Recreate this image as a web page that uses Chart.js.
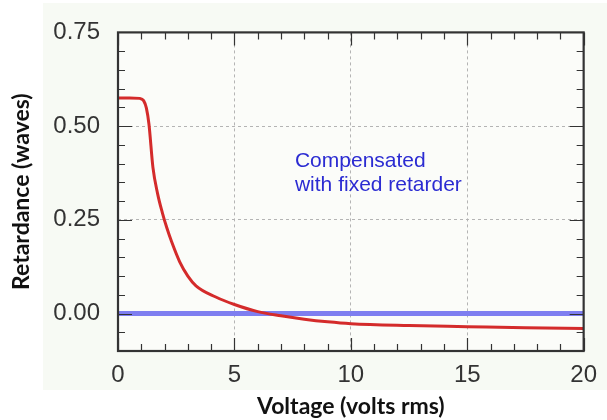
<!DOCTYPE html>
<html>
<head>
<meta charset="utf-8">
<script src="https://cdn.jsdelivr.net/npm/chart.js@4.4.1/dist/chart.umd.min.js"></script>
<style>
  html, body { margin: 0; padding: 0; background: #fff; }
  #wrap { width: 607px; height: 420px; position: relative; }
</style>
</head>
<body>
<div id="wrap"><canvas id="ret-chart"></canvas></div>
<script>
// Retardance vs. voltage
const voltage    = [0, 0.5, 0.93, 1.1, 1.22, 1.33, 1.5, 1.7, 1.9, 2.1, 2.3, 2.65, 3.0, 3.35, 4.2, 5.0, 6.0, 7.0, 8.0, 9.0, 10, 12.5, 15, 17.5, 20];
const retardance = [0.575, 0.575, 0.574, 0.568, 0.548, 0.505, 0.39, 0.32, 0.27, 0.228, 0.192, 0.138, 0.1, 0.074, 0.044, 0.024, 0.005, -0.006, -0.015, -0.022, -0.027, -0.032, -0.035, -0.038, -0.04];

// compensated curve (flat at zero)
const compVoltage    = [0, 20];
const compRetardance = [0, 0];

const xTicks = [0, 5, 10, 15, 20];
const yTicks = [0, 0.25, 0.5, 0.75];
const xMinorStep = 1;
const yMinorStep = 0.05;

const noteLines = ['Compensated', 'with fixed retarder'];

const TICK_FONT = { family: '"Liberation Sans", Arial, sans-serif', size: 24 };
const TITLE_FONT = { family: 'Lato, "Liberation Sans", sans-serif', size: 23, weight: 'bold' };

const toPoints = (xs, ys) => xs.map((x, i) => ({ x, y: ys[i] }));

// light backdrop behind the figure
const backdrop = {
  id: 'backdrop',
  beforeDraw(chart) {
    const ctx = chart.ctx;
    ctx.save();
    ctx.fillStyle = '#f7faf4';
    ctx.fillRect(43, 3, chart.width - 43, 387);
    ctx.fillStyle = '#fbfcf9';
    const a = chart.chartArea;
    ctx.fillRect(a.left, a.top, a.right - a.left, a.bottom - a.top);
    ctx.restore();
  },
};

// box frame with inward ticks on all four sides, plus the blue note
const frame = {
  id: 'frame',
  afterDraw(chart) {
    const { ctx, chartArea: a, scales: { x, y } } = chart;
    ctx.save();
    ctx.strokeStyle = '#333';
    ctx.lineWidth = 1.2;
    ctx.beginPath();
    for (let v = x.min; v <= x.max + 1e-9; v += xMinorStep) {
      const px = Math.round(x.getPixelForValue(v)) + 0.5;
      const len = xTicks.includes(Math.round(v)) ? 13 : 7;
      ctx.moveTo(px, a.bottom); ctx.lineTo(px, a.bottom - len);
      ctx.moveTo(px, a.top); ctx.lineTo(px, a.top + len);
    }
    for (let i = -2; i <= 15; i++) {
      const v = i * yMinorStep;
      const py = Math.round(y.getPixelForValue(v)) + 0.5;
      const len = yTicks.some(t => Math.abs(t - v) < 1e-6) ? 14 : 7;
      ctx.moveTo(a.left, py); ctx.lineTo(a.left + len, py);
      ctx.moveTo(a.right, py); ctx.lineTo(a.right - len, py);
    }
    ctx.stroke();

    ctx.lineWidth = 2.2;
    ctx.strokeRect(a.left, a.top, a.right - a.left, a.bottom - a.top);

    // annotation
    ctx.fillStyle = '#2b2bd2';
    ctx.font = '21px "Liberation Sans", Arial, sans-serif';
    ctx.textBaseline = 'alphabetic';
    ctx.textAlign = 'left';
    const nx = x.getPixelForValue(7.6);
    const ny = y.getPixelForValue(0.39);
    noteLines.forEach((t, i) => ctx.fillText(t, nx, ny + i * 23.5));
    ctx.restore();
  },
};

new Chart(document.getElementById('ret-chart'), {
  type: 'line',
  data: {
    datasets: [{
      label: 'Uncompensated',
      data: toPoints(voltage, retardance),
      borderColor: '#d42b2b',
      borderWidth: 3,
      pointRadius: 0,
      cubicInterpolationMode: 'monotone',
      fill: false,
    }, {
      label: 'Compensated',
      data: toPoints(compVoltage, compRetardance),
      borderColor: '#7e7ef0',
      borderWidth: 5,
      pointRadius: 0,
      fill: false,
    }],
  },
  options: {
    responsive: true,
    maintainAspectRatio: false,
    animation: false,
    events: [],
    layout: { padding: { top: 27, right: 18, left: 0, bottom: 0 } },
    plugins: { legend: { display: false }, tooltip: { enabled: false } },
    scales: {
      x: {
        type: 'linear',
        min: 0,
        max: 20,
        afterBuildTicks: s => { s.ticks = xTicks.map(value => ({ value })); },
        afterFit: s => { s.height = 69; },
        ticks: { font: TICK_FONT, color: '#333', padding: 10 },
        grid: { color: '#b4b4b4', lineWidth: 1, drawTicks: false },
        border: { display: false, dash: [3, 3] },
        title: { display: true, text: 'Voltage (volts rms)', font: TITLE_FONT, color: '#111', padding: { top: 0, bottom: 0 } },
      },
      y: {
        type: 'linear',
        min: -0.1,
        max: 0.75,
        afterBuildTicks: s => { s.ticks = yTicks.map(value => ({ value })); },
        afterFit: s => { s.width = 118; },
        ticks: { font: TICK_FONT, color: '#333', padding: 18, callback: v => v.toFixed(2) },
        grid: { color: '#b4b4b4', lineWidth: 1, drawTicks: false },
        border: { display: false, dash: [3, 3] },
        title: { display: true, text: 'Retardance (waves)', font: TITLE_FONT, color: '#111', padding: { top: 8, bottom: 0 } },
      },
    },
  },
  plugins: [backdrop, frame],
});
</script>
</body>
</html>
